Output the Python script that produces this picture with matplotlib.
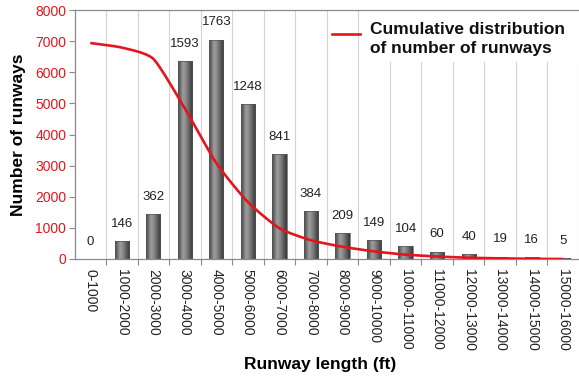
import numpy as np
import matplotlib
matplotlib.use("Agg")
import matplotlib.pyplot as plt
from matplotlib.patches import Rectangle
from matplotlib.colors import LinearSegmentedColormap

plt.rcParams['font.family'] = ['Liberation Sans', 'DejaVu Sans']

categories = ["0-1000", "1000-2000", "2000-3000", "3000-4000", "4000-5000",
              "5000-6000", "6000-7000", "7000-8000", "8000-9000", "9000-10000",
              "10000-11000", "11000-12000", "12000-13000", "13000-14000",
              "14000-15000", "15000-16000"]
bar_heights = [0, 590, 1450, 6370, 7050, 4990, 3360, 1540, 840, 600, 420, 240, 160, 80, 65, 20]
bar_labels = [0, 146, 362, 1593, 1763, 1248, 841, 384, 209, 149, 104, 60, 40, 19, 16, 5]
cumulative = [6939, 6793, 6431, 4838, 3075, 1827, 986, 602, 393, 244, 140, 80, 40, 21, 5, 0]
yticks = [0, 1000, 2000, 3000, 4000, 5000, 6000, 7000, 8000]

RED = "#e3161d"

fig = plt.figure(figsize=(5.79, 3.81), dpi=100)
ax = fig.add_axes([74.5/579, 1-259/381, 504.5/579, 249/381])

x = np.arange(len(categories))
ax.set_xlim(-0.5, len(categories) - 0.5)
ax.set_ylim(0, 8000)

# grid at category boundaries
for b in np.arange(0.5, len(categories), 1.0):
    ax.axvline(b, color="#d4d4d4", lw=0.8, zorder=0)

# bars with cylinder gradient
cmap = LinearSegmentedColormap.from_list(
    "cyl", [(0, "#454545"), (0.35, "#a0a0a0"), (0.55, "#858585"), (1, "#363636")])
grad = np.linspace(0, 1, 64).reshape(1, -1)
bars = ax.bar(x, bar_heights, width=0.45, color="none", edgecolor="#555555", lw=0.5, zorder=2)
for rect in bars:
    bx, by = rect.get_x(), rect.get_y()
    bw, bh = rect.get_width(), rect.get_height()
    if bh <= 0:
        continue
    im = ax.imshow(grad, cmap=cmap, aspect="auto", extent=[bx, bx + bw, by, by + bh],
                   zorder=1.5, interpolation="bicubic")
    im.set_clip_path(rect)
ax.set_xlim(-0.5, len(categories) - 0.5)
ax.set_ylim(0, 8000)

# value labels
for xi, h, lab in zip(x, bar_heights, bar_labels):
    ax.annotate(str(lab), (xi, h), xytext=(0, 12.3), textcoords="offset points",
                ha="center", va="center", fontsize=9.5, color="#222222", zorder=4)

# smooth cumulative line (cardinal spline)
def cardinal(xs, ys, c=0.3, n=20):
    px = np.concatenate([[2*xs[0]-xs[1]], xs, [2*xs[-1]-xs[-2]]])
    py = np.concatenate([[2*ys[0]-ys[1]], ys, [2*ys[-1]-ys[-2]]])
    ox, oy = [], []
    t = np.linspace(0, 1, n, endpoint=False)
    h00 = 2*t**3 - 3*t**2 + 1
    h10 = t**3 - 2*t**2 + t
    h01 = -2*t**3 + 3*t**2
    h11 = t**3 - t**2
    for i in range(1, len(px) - 2):
        for arr, out in ((px, ox), (py, oy)):
            p0, p1, p2, p3 = arr[i-1], arr[i], arr[i+1], arr[i+2]
            m1 = c*(p2 - p0)
            m2 = c*(p3 - p1)
            out.extend(h00*p1 + h10*m1 + h01*p2 + h11*m2)
    ox.append(xs[-1]); oy.append(ys[-1])
    return np.array(ox), np.clip(np.array(oy), 0, None)

sx, sy = cardinal(x.astype(float), np.array(cumulative, dtype=float))
ax.plot(sx, sy, color=RED, lw=1.9, zorder=3, solid_capstyle="butt")

# axes styling
ax.spines["right"].set_visible(False)
for s in ["left", "bottom", "top"]:
    ax.spines[s].set_color("#8a8a8a")
    ax.spines[s].set_linewidth(0.9)

ax.set_yticks(yticks)
ax.set_yticklabels([str(v) for v in yticks], color=RED, fontsize=10)
ax.tick_params(axis="y", length=4, width=0.8, color="#8a8a8a", pad=2)

ax.set_xticks(x)
ax.set_xticklabels(categories, rotation=270, fontsize=10, color="#222222")
ax.tick_params(axis="x", which="major", length=0, pad=7)
ax.set_xticks(np.arange(0.5, len(categories) - 0.5, 1.0), minor=True)
ax.tick_params(axis="x", which="minor", length=4, width=0.8, color="#8a8a8a")

ax.set_ylabel("Number of runways", fontsize=12.5, fontweight="bold")
ax.yaxis.set_label_coords((26-74.5)/504.5, 0.5)
ax.set_xlabel("Runway length (ft)", fontsize=12.5, fontweight="bold")
ax.xaxis.set_label_coords((320-74.5)/504.5, (259-357)/249)

# legend
ax.add_patch(Rectangle(((365-74.5)/504.5, (259-62)/249), 1.0, 1.0, transform=ax.transAxes,
                       facecolor="white", edgecolor="none", zorder=0.5, clip_on=True))
ax.plot([(332-74.5)/504.5, (360-74.5)/504.5], [(259-34)/249]*2, transform=ax.transAxes,
        color=RED, lw=1.9, zorder=5, clip_on=False)
ax.text((370-74.5)/504.5, (259-39)/249, "Cumulative distribution\nof number of runways",
        transform=ax.transAxes, fontsize=12.5, fontweight="bold", va="center", ha="left",
        linespacing=1.3, color="#111111", zorder=5)

fig.savefig("out.png", dpi=100)
